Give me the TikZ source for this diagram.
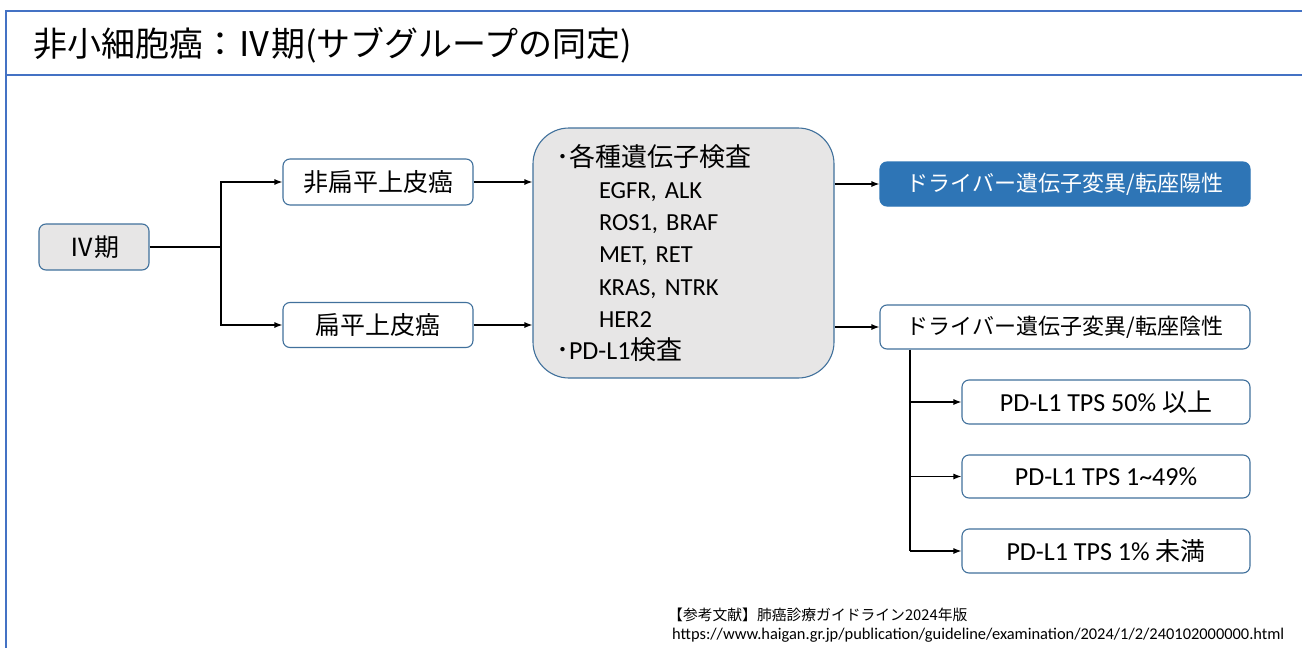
\documentclass[tikz,border=0pt]{standalone}
\usepackage{fontspec}
\setmainfont{Carlito}
\newfontfamily\jp{Noto Sans CJK JP}
\usetikzlibrary{arrows.meta}
\definecolor{bblue}{RGB}{65,113,156}
\definecolor{lgray}{RGB}{231,230,230}
\definecolor{posblue}{RGB}{46,117,182}
\definecolor{frameblue}{RGB}{68,114,196}
\frenchspacing
\begin{document}
\begin{tikzpicture}[x=1pt,y=-1pt,
  box/.style={draw=bblue, line width=1.1pt, rounded corners=7pt, inner sep=0pt, align=center},
  graybox/.style={box, fill=lgray},
  whitebox/.style={box, fill=white},
  posbox/.style={box, draw=posblue, fill=posblue, text=white},
  arr/.style={line width=1.2pt, -{Latex[length=8pt,width=6pt]}},
  ln/.style={line width=1.2pt},
  jpnode/.style={font=\jp\fontsize{25}{30}\selectfont},
  tps/.style={font=\fontsize{26}{30}\selectfont}
]
\path[use as bounding box, fill=white] (0,0) rectangle (1302,648);
% frame
\draw[frameblue, line width=1.6pt] (1302,11) -- (6,11) -- (6,648);
\draw[frameblue, line width=1.6pt] (6,75) -- (1302,75);
% title
\node[anchor=west, inner sep=0pt, font=\jp\fontsize{34}{34}\selectfont] (title) at (33,45) {非小細胞癌：Ⅳ期(サブグループの同定)};
% nodes
\node[graybox, minimum width=110pt, minimum height=46pt, jpnode] (IV) at (94,247) {Ⅳ期};
\node[whitebox, minimum width=190pt, minimum height=46pt, jpnode] (NS) at (378,182) {非扁平上皮癌};
\node[whitebox, minimum width=190pt, minimum height=45pt, jpnode] (SQ) at (378,325) {扁平上皮癌};
\node[graybox, rounded corners=36pt, minimum width=301pt, minimum height=250pt, text width=255pt, align=left, inner xsep=23pt, inner ysep=0pt, font=\fontsize{24.5}{32.3}\selectfont] (C) at (683.5,253) {%
{\jp\fontsize{26}{32.3}\selectfont ･各種遺伝子検査}\\
\hspace*{43pt}EGFR, ALK\\
\hspace*{43pt}ROS1, BRAF\\
\hspace*{43pt}MET, RET\\
\hspace*{43pt}KRAS, NTRK\\
\hspace*{43pt}HER2\\
{\jp\fontsize{26}{32.3}\selectfont ･{\fontspec{Carlito}PD-L1}検査}};
\node[posbox, minimum width=370pt, minimum height=44pt, font=\jp\fontsize{22}{26}\selectfont] (POS) at (1065,184) {ドライバー遺伝子変異/転座陽性};
\node[whitebox, minimum width=370pt, minimum height=44pt, font=\jp\fontsize{22}{26}\selectfont] (NEG) at (1065,327) {ドライバー遺伝子変異/転座陰性};
\node[whitebox, minimum width=288pt, minimum height=44pt, tps] (P50) at (1106,402) {PD-L1 TPS 50\% {\jp\fontsize{25}{30}\selectfont 以上}};
\node[whitebox, minimum width=288pt, minimum height=43pt, tps] (P1) at (1106,476.5) {PD-L1 TPS 1\textasciitilde49\%};
\node[whitebox, minimum width=288pt, minimum height=44pt, tps] (P0) at (1106,551) {PD-L1 TPS 1\% {\jp\fontsize{25}{30}\selectfont 未満}};
% reference
\node[anchor=west, inner sep=0pt, font=\jp\fontsize{14.8}{16}\selectfont] (ref1) at (668,615) {【参考文献】肺癌診療ガイドライン2024年版};
\node[anchor=west, inner sep=0pt, font=\fontsize{16.4}{18}\selectfont] (ref2) at (672,635) {https://www.haigan.gr.jp/publication/guideline/examination/2024/1/2/240102000000.html};
% connectors
\coordinate (j1) at (221,247);
\draw[ln] (IV.east) -- (j1);
\draw[arr] (j1) |- (NS.west);
\draw[arr] (j1) |- (SQ.west);
\draw[arr] (NS.east) -- (NS.east -| C.west);
\draw[arr] (SQ.east) -- (SQ.east -| C.west);
\draw[arr] (C.east |- POS.west) -- (POS.west);
\draw[arr] (C.east |- NEG.west) -- (NEG.west);
\coordinate (v) at (910,0);
\draw[ln] (v |- NEG.south) -- (v |- P0.west);
\draw[arr] (v |- P50.west) -- (P50.west);
\draw[arr] (v |- P1.west) -- (P1.west);
\draw[arr] (v |- P0.west) -- (P0.west);
\end{tikzpicture}
\end{document}
